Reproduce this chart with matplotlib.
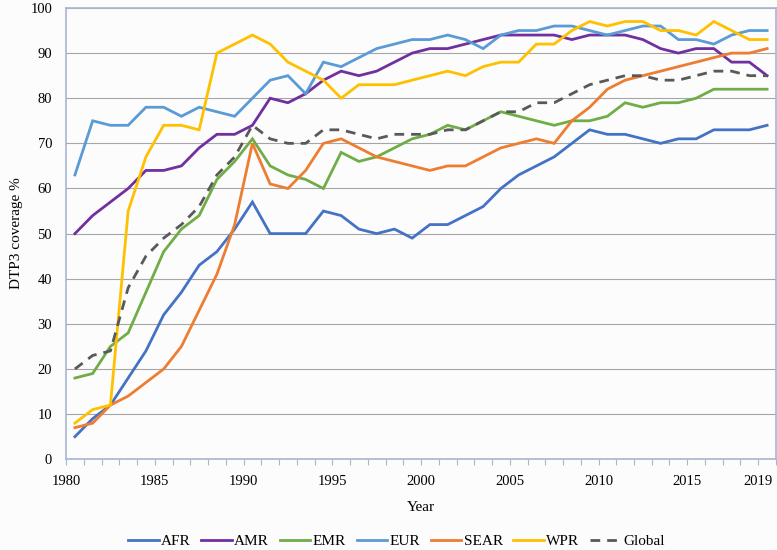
import matplotlib
matplotlib.use("Agg")
import matplotlib.pyplot as plt

# DTP3 coverage by WHO region, 1980-2019
years = list(range(1980, 2020))

afr = [5, 9, 12, 18, 24, 32, 37, 43, 46, 51,
       57, 50, 50, 50, 55, 54, 51, 50, 51, 49,
       52, 52, 54, 56, 60, 63, 65, 67, 70, 73,
       72, 72, 71, 70, 71, 71, 73, 73, 73, 74]
amr = [50, 54, 57, 60, 64, 64, 65, 69, 72, 72,
       74, 80, 79, 81, 84, 86, 85, 86, 88, 90,
       91, 91, 92, 93, 94, 94, 94, 94, 93, 94,
       94, 94, 93, 91, 90, 91, 91, 88, 88, 85]
emr = [18, 19, 25, 28, 37, 46, 51, 54, 62, 66,
       71, 65, 63, 62, 60, 68, 66, 67, 69, 71,
       72, 74, 73, 75, 77, 76, 75, 74, 75, 75,
       76, 79, 78, 79, 79, 80, 82, 82, 82, 82]
eur = [63, 75, 74, 74, 78, 78, 76, 78, 77, 76,
       80, 84, 85, 81, 88, 87, 89, 91, 92, 93,
       93, 94, 93, 91, 94, 95, 95, 96, 96, 95,
       94, 95, 96, 96, 93, 93, 92, 94, 95, 95]
sear = [7, 8, 12, 14, 17, 20, 25, 33, 41, 52,
        70, 61, 60, 64, 70, 71, 69, 67, 66, 65,
        64, 65, 65, 67, 69, 70, 71, 70, 75, 78,
        82, 84, 85, 86, 87, 88, 89, 90, 90, 91]
wpr = [8, 11, 12, 55, 67, 74, 74, 73, 90, 92,
       94, 92, 88, 86, 84, 80, 83, 83, 83, 84,
       85, 86, 85, 87, 88, 88, 92, 92, 95, 97,
       96, 97, 97, 95, 95, 94, 97, 95, 93, 93]
glob = [20, 23, 24, 38, 45, 49, 52, 56, 63, 67,
        74, 71, 70, 70, 73, 73, 72, 71, 72, 72,
        72, 73, 73, 75, 77, 77, 79, 79, 81, 83,
        84, 85, 85, 84, 84, 85, 86, 86, 85, 85]

labeled_years = [1980, 1985, 1990, 1995, 2000, 2005, 2010, 2015, 2019]

plt.rcParams["font.family"] = ["Liberation Serif", "DejaVu Serif"]

fig = plt.figure(figsize=(7.77, 5.5), dpi=100, facecolor="#fcfcfc")
ax = fig.add_axes([0.085, 0.165, 0.9137, 0.8205], facecolor="#fcfcfc")

# points sit in the middle of each year slot, like an Excel category axis
x = [y + 0.5 for y in years]
series = [
    ("AFR", afr, "#4472c4"),
    ("AMR", amr, "#7030a0"),
    ("EMR", emr, "#70ad47"),
    ("EUR", eur, "#5b9bd5"),
    ("SEAR", sear, "#ed7d31"),
    ("WPR", wpr, "#ffc000"),
]
for name, vals, col in series:
    ax.plot(x, vals, color=col, lw=2.0, label=name, solid_joinstyle="miter")
ax.plot(x, glob, color="#595959", lw=2.0, ls=(0, (3.5, 2.5)), label="Global")

ax.set_xlim(1980, 2020)
ax.set_ylim(0, 100)
ax.set_yticks(range(0, 101, 10))
ticks = list(range(1980, 2021))
ax.set_xticks(ticks)
ax.set_xticklabels([str(t) if t in labeled_years else "" for t in ticks])
ax.tick_params(axis="x", direction="out", length=4, width=0.8,
               color="#a6b6cf", labelsize=10.5, pad=7)
ax.tick_params(axis="y", length=0, labelsize=10.5, pad=10)

ax.grid(axis="y", color="#a6a6a6", lw=0.8)
ax.set_axisbelow(True)
for s in ax.spines.values():
    s.set_color("#a6b6cf")
    s.set_linewidth(1.2)

ax.set_xlabel("Year", fontsize=11, labelpad=10)
ax.set_ylabel("DTP3 coverage %", fontsize=11, labelpad=5)

fig.legend(loc="center", bbox_to_anchor=(0.51, 0.016), ncol=7, frameon=False,
           fontsize=11, handlelength=2.0, handletextpad=0.15, columnspacing=0.7)

fig.savefig("out.png", dpi=100, facecolor=fig.get_facecolor())
